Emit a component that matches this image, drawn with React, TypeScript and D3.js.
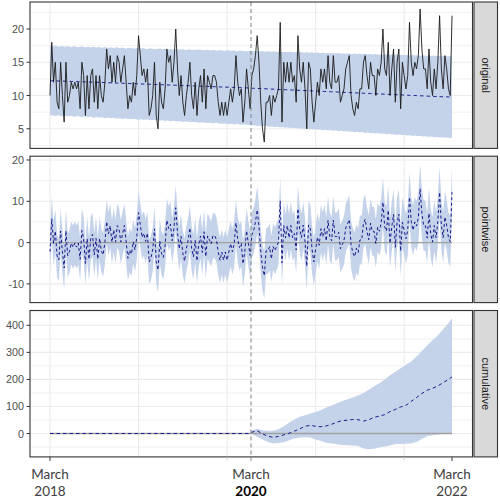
import React from "react";
import * as d3 from "d3";

// ---------- data ----------
// observed series, pre-intervention (114 obs) and post-intervention (114 obs)
const preObserved = [
  10, 18, 12, 15, 9, 8, 15, 10, 6, 15,
  9, 10, 12, 11, 12, 11, 12, 8, 15, 13,
  7, 13, 8, 13, 14, 9, 13, 8, 13, 10,
  9, 12, 17, 14, 16, 12, 15, 12, 16, 15,
  12, 14, 16, 12, 8, 10, 9, 12, 10, 13,
  19, 16, 13, 14, 12, 14, 7, 8, 10, 15,
  7, 5, 12, 9, 8, 11, 17, 15, 16, 12,
  15, 20, 14, 10, 13, 9, 7, 10, 12, 15,
  10, 8, 12, 7, 11, 13, 9, 14, 8, 13,
  12, 11, 13, 13, 12, 9, 7, 9, 7, 9,
  7, 9, 11, 9, 11, 16, 12, 10, 11, 6,
  9, 14, 11, 8,
];
const postObserved = [
  13, 14, 16, 19, 15, 9, 5, 3, 9, 9,
  10, 7, 10, 9, 10, 11, 21, 6, 15, 12,
  15, 12, 15, 12, 13, 9, 19, 14, 12, 15,
  11, 5, 15, 14, 9, 6, 9, 12, 10, 14,
  12, 14, 11, 16, 12, 11, 16, 12, 12, 13,
  9, 10, 11, 14, 15, 16, 10, 8, 7, 9,
  8, 11, 11, 15, 16, 13, 11, 15, 13, 13,
  10, 14, 13, 15, 20, 14, 13, 18, 10, 14,
  17, 9, 15, 17, 8, 15, 13, 11, 13, 21,
  15, 13, 15, 14, 16, 23, 17, 14, 14, 11,
  17, 12, 10, 14, 11, 15, 22, 14, 11, 16,
  14, 11, 10, 22,
];
// counterfactual prediction (posterior mean)
const predMean = [
  12.22, 12.21, 12.20, 12.21, 12.19, 12.18, 12.17, 12.18, 12.16, 12.15, 12.15, 12.13,
  12.12, 12.12, 12.10, 12.09, 12.10, 12.08, 12.06, 12.07, 12.05, 12.04, 12.03, 12.03,
  12.01, 12.00, 11.99, 11.99, 11.97, 11.96, 11.96, 11.94, 11.93, 11.92, 11.92, 11.90,
  11.89, 11.88, 11.88, 11.86, 11.85, 11.85, 11.83, 11.82, 11.81, 11.81, 11.79, 11.78,
  11.77, 11.77, 11.75, 11.74, 11.74, 11.72, 11.71, 11.70, 11.70, 11.68, 11.67, 11.66,
  11.66, 11.64, 11.63, 11.63, 11.61, 11.60, 11.59, 11.59, 11.57, 11.56, 11.55, 11.55,
  11.53, 11.52, 11.52, 11.50, 11.49, 11.48, 11.48, 11.46, 11.45, 11.44, 11.44, 11.42,
  11.41, 11.41, 11.39, 11.38, 11.37, 11.37, 11.35, 11.34, 11.33, 11.33, 11.31, 11.30,
  11.30, 11.28, 11.27, 11.26, 11.26, 11.24, 11.23, 11.22, 11.22, 11.20, 11.19, 11.19,
  11.17, 11.16, 11.15, 11.15, 11.13, 11.12,
  11.10, 11.09, 11.08, 11.07, 11.05, 11.04, 11.03, 11.02, 11.01, 10.99, 10.98, 10.97,
  10.96, 10.95, 10.93, 10.92, 10.91, 10.90, 10.89, 10.87, 10.86, 10.85, 10.84, 10.83,
  10.81, 10.80, 10.79, 10.78, 10.77, 10.75, 10.74, 10.73, 10.72, 10.71, 10.69, 10.68,
  10.67, 10.66, 10.65, 10.63, 10.62, 10.61, 10.60, 10.59, 10.57, 10.56, 10.55, 10.54,
  10.53, 10.51, 10.50, 10.49, 10.48, 10.47, 10.45, 10.44, 10.43, 10.42, 10.41, 10.39,
  10.38, 10.37, 10.36, 10.35, 10.33, 10.32, 10.31, 10.30, 10.29, 10.27, 10.26, 10.25,
  10.24, 10.23, 10.21, 10.20, 10.19, 10.18, 10.17, 10.15, 10.14, 10.13, 10.12, 10.11,
  10.09, 10.08, 10.07, 10.06, 10.05, 10.03, 10.02, 10.01, 10.00, 9.99, 9.97, 9.96,
  9.95, 9.94, 9.93, 9.91, 9.90, 9.89, 9.88, 9.87, 9.85, 9.84, 9.83, 9.82,
  9.81, 9.80, 9.80, 9.79, 9.79, 9.78,
];
// half width of the 95% prediction interval
const predHalfWidth = [
  5.25, 5.18, 5.22, 5.30, 5.21, 5.15, 5.24, 5.28, 5.19, 5.23, 5.31, 5.20,
  5.17, 5.26, 5.29, 5.22, 5.18, 5.27, 5.33, 5.24, 5.20, 5.28, 5.25, 5.19,
  5.30, 5.34, 5.23, 5.27, 5.31, 5.22, 5.26, 5.35, 5.29, 5.24, 5.32, 5.28,
  5.25, 5.33, 5.37, 5.27, 5.30, 5.36, 5.29, 5.26, 5.34, 5.38, 5.30, 5.33,
  5.28, 5.36, 5.40, 5.31, 5.35, 5.39, 5.32, 5.29, 5.37, 5.41, 5.34, 5.38,
  5.31, 5.40, 5.43, 5.35, 5.38, 5.42, 5.33, 5.37, 5.44, 5.39, 5.36, 5.41,
  5.45, 5.38, 5.42, 5.47, 5.40, 5.37, 5.44, 5.48, 5.41, 5.45, 5.39, 5.46,
  5.50, 5.43, 5.47, 5.41, 5.49, 5.52, 5.44, 5.48, 5.53, 5.46, 5.42, 5.50,
  5.54, 5.47, 5.51, 5.45, 5.53, 5.56, 5.49, 5.52, 5.57, 5.50, 5.47, 5.55,
  5.58, 5.51, 5.54, 5.49, 5.57, 5.60,
  5.62, 5.55, 5.59, 5.66, 5.58, 5.63, 5.68, 5.60, 5.57, 5.65, 5.69, 5.61,
  5.64, 5.70, 5.62, 5.67, 5.72, 5.63, 5.66, 5.71, 5.65, 5.69, 5.74, 5.66,
  5.70, 5.75, 5.68, 5.72, 5.77, 5.69, 5.73, 5.78, 5.71, 5.75, 5.80, 5.72,
  5.76, 5.81, 5.74, 5.78, 5.83, 5.75, 5.79, 5.84, 5.77, 5.81, 5.86, 5.78,
  5.82, 5.87, 5.80, 5.84, 5.89, 5.81, 5.85, 5.90, 5.83, 5.87, 5.92, 5.84,
  5.88, 5.93, 5.86, 5.90, 5.95, 5.87, 5.91, 5.96, 5.89, 5.93, 5.98, 5.90,
  5.94, 5.99, 5.92, 5.96, 6.01, 5.93, 5.97, 6.02, 5.95, 5.99, 6.04, 5.96,
  6.00, 6.05, 5.98, 6.02, 6.07, 5.99, 6.03, 6.08, 6.01, 6.05, 6.10, 6.02,
  6.06, 6.11, 6.04, 6.08, 6.13, 6.05, 6.09, 6.14, 6.07, 6.11, 6.15, 6.08,
  6.12, 6.16, 6.10, 6.13, 6.17, 6.12,
];
// cumulative effect, sampled every 3rd post-period observation (+ last one)
const cumMean = [
  5, 10, -1, -10, -14, -11, -5, 1, 9, 17,
  27, 30, 27, 25, 28, 34, 42, 48, 49, 52,
  51, 46, 51, 60, 64, 70, 81, 89, 98, 104,
  119, 133, 148, 160, 167, 176, 188, 200, 209,
];
const cumUpper = [
  12, 18, 12, 10, 10, 16, 27, 40, 52, 62,
  68, 74, 80, 87, 96, 104, 112, 120, 127, 133,
  141, 150, 162, 175, 186, 200, 215, 228, 241, 254,
  266, 285, 305, 325, 345, 362, 385, 408, 426,
];
const cumLower = [
  -2, -12, -22, -31, -37, -35, -32, -25, -18, -15,
  -14, -15, -22, -28, -34, -37, -40, -42, -43, -44,
  -46, -55, -58, -56, -52, -48, -44, -39, -39, -38,
  -36, -31, -20, -10, -6, -4, -2, 0, 2,
];
const panelNames = ["original", "pointwise", "cumulative"];
const xTickMonths = ["March", "March", "March"];
const xTickYears = ["2018", "2020", "2022"];

// ---------- derived ----------
const STEP = 2; // time units per observation
const observed = [...preObserved, ...postObserved];
const nObs = observed.length;
const times = observed.map((_, i) => i * STEP);
const lastPreT = (preObserved.length - 1) * STEP;
const firstPostT = preObserved.length * STEP;
const interventionT = (lastPreT + firstPostT) / 2;
const endT = times[nObs - 1];
const xTickTimes = [0, interventionT, endT];

const origRows = observed.map((y, i) => ({
  t: times[i],
  y,
  m: predMean[i],
  lo: predMean[i] - predHalfWidth[i],
  hi: predMean[i] + predHalfWidth[i],
}));
const pointRows = origRows.map((r) => ({
  t: r.t,
  m: r.y - r.m,
  lo: r.y - r.hi,
  hi: r.y - r.lo,
}));
const cumPostIdx = d3.range(0, postObserved.length - 2, 3).concat([postObserved.length - 1]);
const cumRows = [
  { t: lastPreT, m: 0, lo: 0, hi: 0 },
  ...cumPostIdx.map((j, k) => ({
    t: firstPostT + j * STEP,
    m: cumMean[k],
    lo: cumLower[k],
    hi: cumUpper[k],
  })),
];
const cumLineRows = [{ t: 0, m: 0 }, ...cumRows];

// ---------- layout ----------
const W = 500;
const H = 499;
const PANEL_L = 30;
const PANEL_R = 472.5;
const STRIP_L = 474;
const STRIP_R = 497.5;
const PANEL_TOPS = [2, 156.2, 310.5];
const PANEL_H = 146.4;

const x = d3.scaleLinear().domain([0, 454]).range([50, 452]);

const BAND = "#C4D3EA";
const MEAN = "#1A1A8C";
const GRID = "#EBEBEB";
const BORDER = "#333333";
const AXIS_TXT = "#4D4D4D";

type PanelSpec = {
  domain: [number, number];
  major: number[];
  minor: number[];
};
const specs: PanelSpec[] = [
  { domain: [2.05, 24.06], major: [5, 10, 15, 20], minor: [2.5, 7.5, 12.5, 17.5, 22.5] },
  { domain: [-14.53, 20.92], major: [-10, 0, 10, 20], minor: [-5, 5, 15] },
  { domain: [-86.4, 454.7], major: [0, 100, 200, 300, 400], minor: [-50, 50, 150, 250, 350, 450] },
];
const xGrid = [0, 100, 200, 300, 400];

function Panel({ idx }: { idx: number }) {
  const top = PANEL_TOPS[idx];
  const bottom = top + PANEL_H;
  const spec = specs[idx];
  const y = d3.scaleLinear().domain(spec.domain).range([bottom, top]);
  const area = d3
    .area<{ t: number; lo: number; hi: number }>()
    .x((d) => x(d.t))
    .y0((d) => y(d.lo))
    .y1((d) => y(d.hi));
  const line = d3
    .line<{ t: number; v: number }>()
    .x((d) => x(d.t))
    .y((d) => y(d.v));

  let content: React.ReactNode = null;
  if (idx === 0) {
    content = (
      <g>
        <path d={area(origRows) || ""} fill={BAND} />
        <path
          d={line(origRows.map((r) => ({ t: r.t, v: r.m }))) || ""}
          fill="none"
          stroke={MEAN}
          strokeWidth={1}
          strokeDasharray="3.5,3"
        />
        <path
          d={line(origRows.map((r) => ({ t: r.t, v: r.y }))) || ""}
          fill="none"
          stroke="#1a1a1a"
          strokeWidth={0.9}
          strokeLinejoin="round"
        />
      </g>
    );
  } else if (idx === 1) {
    content = (
      <g>
        <path d={area(pointRows) || ""} fill={BAND} />
        <line x1={x(0)} x2={x(endT)} y1={y(0)} y2={y(0)} stroke="#A0A0A0" strokeWidth={1.3} />
        <path
          d={line(pointRows.map((r) => ({ t: r.t, v: r.m }))) || ""}
          fill="none"
          stroke={MEAN}
          strokeWidth={1}
          strokeDasharray="3,2.5"
        />
      </g>
    );
  } else {
    content = (
      <g>
        <path d={area(cumRows) || ""} fill={BAND} />
        <line x1={x(0)} x2={x(endT)} y1={y(0)} y2={y(0)} stroke="#A0A0A0" strokeWidth={1.3} />
        <path
          d={line(cumLineRows.map((r) => ({ t: r.t, v: r.m }))) || ""}
          fill="none"
          stroke={MEAN}
          strokeWidth={1}
          strokeDasharray="3.5,3"
        />
      </g>
    );
  }

  return (
    <g>
      <rect x={PANEL_L} y={top} width={PANEL_R - PANEL_L} height={PANEL_H} fill="#fff" />
      {spec.minor.map((v) => (
        <line key={"mi" + v} x1={PANEL_L} x2={PANEL_R} y1={y(v)} y2={y(v)} stroke={GRID} strokeWidth={0.7} />
      ))}
      {spec.major.map((v) => (
        <line key={"ma" + v} x1={PANEL_L} x2={PANEL_R} y1={y(v)} y2={y(v)} stroke={GRID} strokeWidth={1.1} />
      ))}
      {xGrid.map((v) => (
        <line key={"xg" + v} x1={x(v)} x2={x(v)} y1={top} y2={bottom} stroke={GRID} strokeWidth={1.1} />
      ))}
      {content}
      <line
        x1={x(interventionT)}
        x2={x(interventionT)}
        y1={top}
        y2={bottom}
        stroke="#8A8A8A"
        strokeWidth={1.1}
        strokeDasharray="4,3"
      />
      <rect
        x={PANEL_L}
        y={top}
        width={PANEL_R - PANEL_L}
        height={PANEL_H}
        fill="none"
        stroke={BORDER}
        strokeWidth={1.1}
      />
      {spec.major.map((v) => (
        <g key={"tk" + v}>
          <line x1={PANEL_L - 3.5} x2={PANEL_L} y1={y(v)} y2={y(v)} stroke={BORDER} strokeWidth={1} />
          <text
            x={PANEL_L - 6}
            y={y(v)}
            textAnchor="end"
            dominantBaseline="central"
            fontFamily="'Liberation Sans', Arial, sans-serif"
            fontSize={10.8}
            fill={AXIS_TXT}
          >
            {v}
          </text>
        </g>
      ))}
      <rect
        x={STRIP_L}
        y={top}
        width={STRIP_R - STRIP_L}
        height={PANEL_H}
        fill="#D9D9D9"
        stroke={BORDER}
        strokeWidth={1.1}
      />
      <text
        transform={`translate(${(STRIP_L + STRIP_R) / 2},${top + PANEL_H / 2}) rotate(90)`}
        textAnchor="middle"
        dominantBaseline="central"
        fontFamily="'Liberation Sans', Arial, sans-serif"
        fontSize={11}
        fill="#1A1A1A"
      >
        {panelNames[idx]}
      </text>
    </g>
  );
}

export default function App() {
  const bottom = PANEL_TOPS[2] + PANEL_H;
  return (
    <svg
      width={W}
      height={H}
      viewBox={`0 0 ${W} ${H}`}
      style={{ position: "absolute", left: 0, top: 0, display: "block", background: "#fff" }}
    >
      <rect x={0} y={0} width={W} height={H} fill="#fff" />
      {[0, 1, 2].map((i) => (
        <Panel key={i} idx={i} />
      ))}
      {[200, 400].map((v) => (
        <line key={"ft" + v} x1={x(v)} x2={x(v)} y1={bottom} y2={bottom + 3.5} stroke="#D0D0D0" strokeWidth={1} />
      ))}
      {xTickTimes.map((t, i) => (
        <g key={"xt" + i}>
          <line x1={x(t)} x2={x(t)} y1={bottom} y2={bottom + 4} stroke={i === 1 ? "#8A8A8A" : BORDER} strokeWidth={1} />
          <text
            x={x(t)}
            y={479}
            textAnchor="middle"
            fontFamily="Lato, 'Open Sans', sans-serif"
            fontSize={13.5}
            fill="#404040"
          >
            {xTickMonths[i]}
          </text>
          <text
            x={x(t)}
            y={496}
            textAnchor="middle"
            fontFamily="Lato, 'Open Sans', sans-serif"
            fontSize={13.5}
            fontWeight={i === 1 ? 700 : 400}
            fill={i === 1 ? "#000" : "#404040"}
          >
            {xTickYears[i]}
          </text>
        </g>
      ))}
    </svg>
  );
}
